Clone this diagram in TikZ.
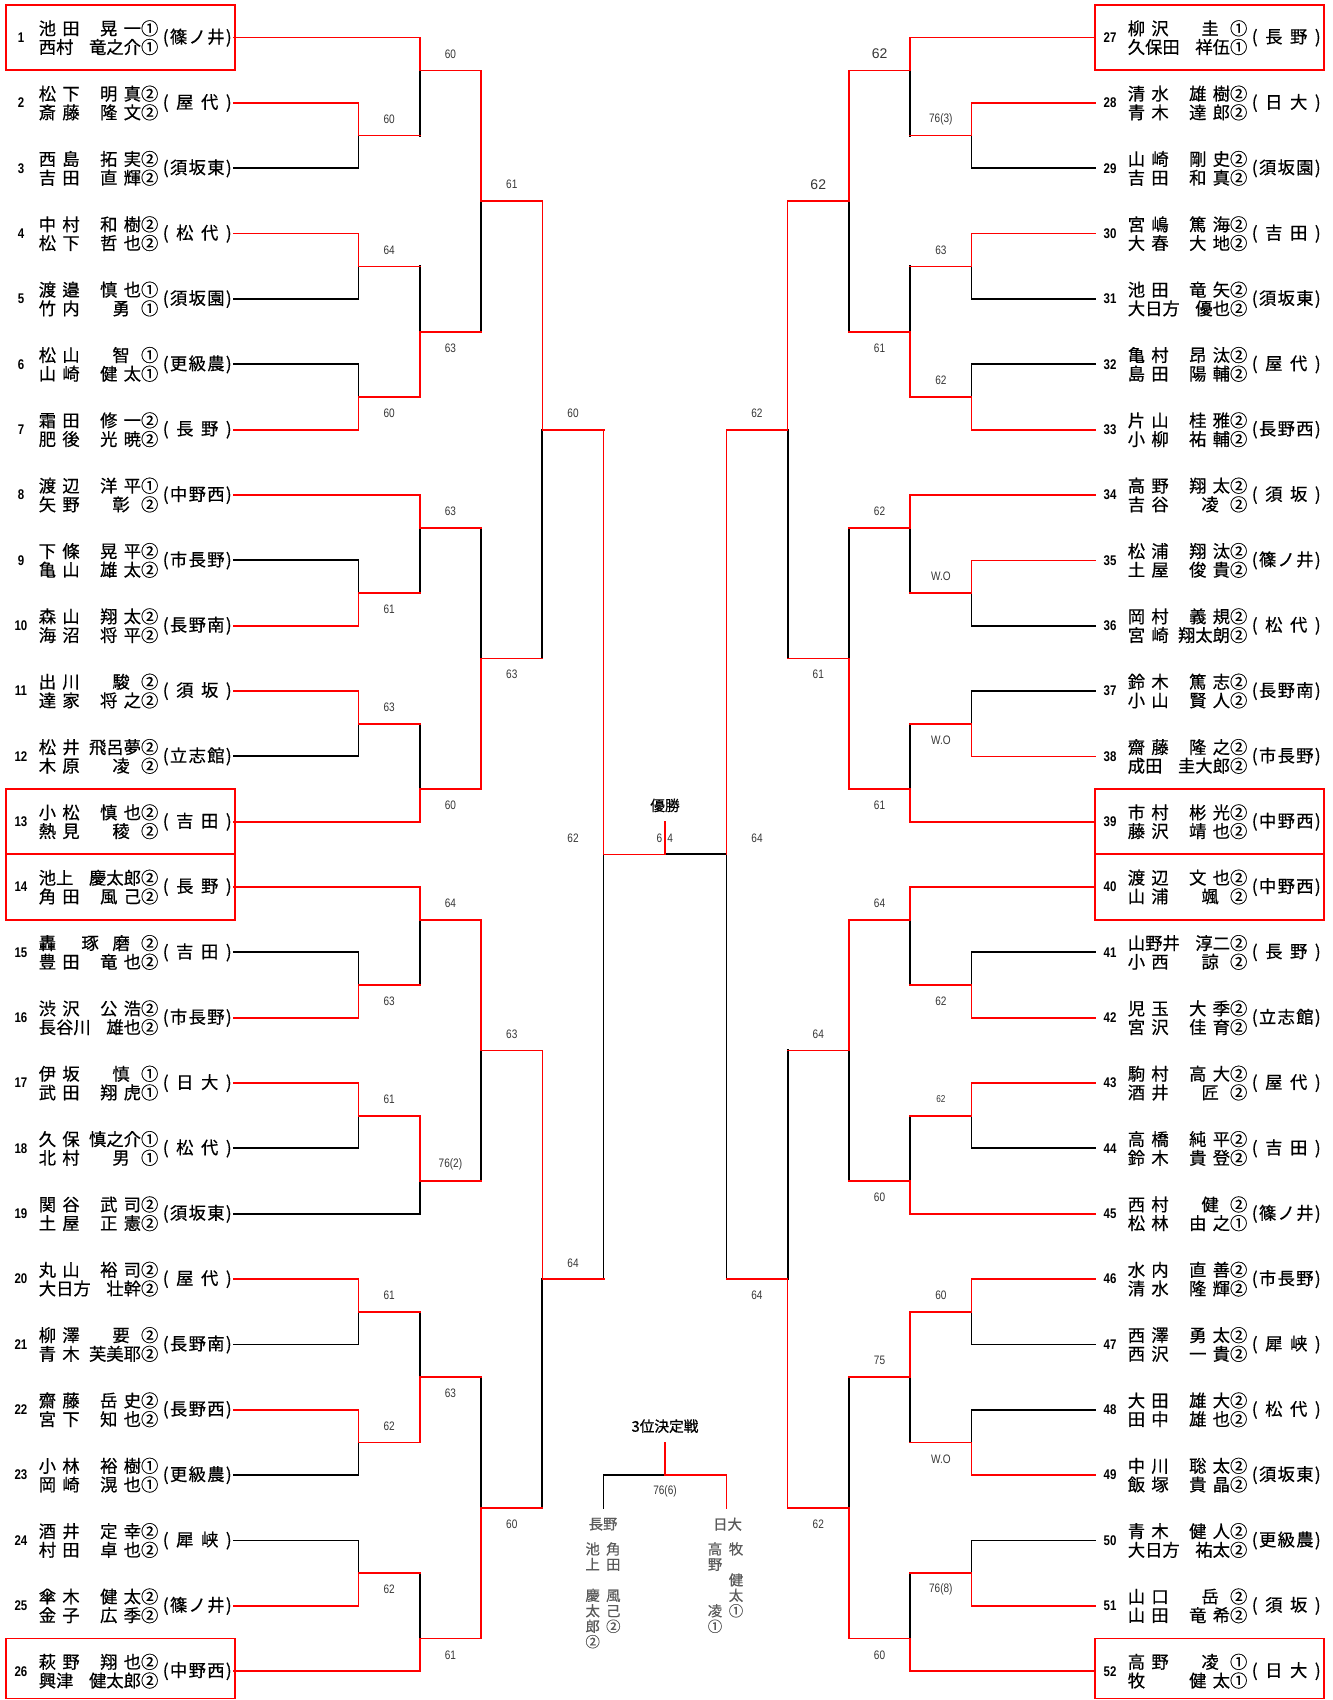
\documentclass[tikz,border=0pt]{standalone}
\usepackage{fontspec}
\setmainfont{Liberation Sans}
\newfontfamily\jpfont[FakeBold=0.5]{Noto Sans CJK JP}
\newfontfamily\jpheadfont[FakeBold=1.0]{Noto Sans CJK JP}
\newfontfamily\numfont[FakeStretch=0.82]{Liberation Sans}
\definecolor{winred}{RGB}{255,0,0}
\definecolor{scoregray}{RGB}{55,55,55}
\definecolor{thirdgray}{RGB}{90,90,90}
\pgfdeclarelayer{front}
\pgfsetlayers{main,front}
% half-row grid of the sheet (px from the top)
\newcommand\ry[1]{5+32.67*(#1)}
\newcommand\ns{\hspace{.36em}}
\newcommand\nz{\hspace{.65em}}
\newcommand\nmline[2]{\makebox[6.9em][l]{#1\hfill#2}}
\newcommand\school[1]{\makebox[51.75pt][s]{(\hfil#1\hfil)}}
\tikzset{
  lose/.style={draw=black, line width=1.45pt, line cap=rect},
  win/.style={draw=winred, line width=1.2pt, line cap=rect},
  seedbox/.style={draw=winred, line width=1.4pt},
  entrynum/.style={font=\numfont\bfseries\fontsize{10.5}{12}\selectfont, inner sep=0pt},
  pname/.style={font=\jpfont\fontsize{13}{14}\selectfont, align=left,
                inner sep=0pt, anchor=west},
  pschool/.style={font=\jpfont\fontsize{13}{14}\selectfont, inner sep=0pt,
                  anchor=west},
  lbl/.style={font=\numfont\fontsize{9.2}{11}\selectfont, text=scoregray,
              inner sep=0pt},
  lbl big/.style={lbl, font=\fontsize{10.5}{12}\selectfont},
  lbl small/.style={lbl, font=\numfont\fontsize{7.5}{9}\selectfont},
  headline/.style={font=\jpfont\fontsize{11}{13}\selectfont, inner sep=0pt},
  headline bold/.style={headline, font=\jpheadfont\fontsize{11}{13}\selectfont},
  vname/.style={font=\jpfont\fontsize{10.8}{11.6}\selectfont, text=thirdgray,
                align=center, inner sep=0pt, anchor=north},
}

\begin{document}
\begin{tikzpicture}[x=0.75pt, y=-0.75pt]
\fill[white] (0,0) rectangle (1333,1700);
\useasboundingbox (0,0) rectangle (1333,1700);
% seeded pairs in red frames
\foreach \k/\dx in {1/0,13/0,14/0,26/0,1/1089,13/1089,14/1089,26/1089}{
  \pgfmathsetmacro\yt{\ry{2*\k-2}}
  \pgfmathsetmacro\yb{min(\ry{2*\k},1698.5)}
  \draw[seedbox] (6+\dx,\yt) rectangle (235+\dx,\yb);
}
% entries: number, the two names, school, and the first line
\foreach \n/\fa/\ga/\fb/\gb/\sch/\bye/\win in {%
  1/{池\ns 田}/{晃\ns 一①}/西村/竜之介①/{篠\hfil ノ\hfil 井}/1/1,
  2/{松\ns 下}/{明\ns 真②}/{斎\ns 藤}/{隆\ns 文②}/{屋\hfil 代}/0/1,
  3/{西\ns 島}/{拓\ns 実②}/{吉\ns 田}/{直\ns 輝②}/{須\hfil 坂\hfil 東}/0/0,
  4/{中\ns 村}/{和\ns 樹②}/{松\ns 下}/{哲\ns 也②}/{松\hfil 代}/0/1,
  5/{渡\ns 邉}/{慎\ns 也①}/{竹\ns 内}/{勇\nz ①}/{須\hfil 坂\hfil 園}/0/0,
  6/{松\ns 山}/{智\nz ①}/{山\ns 崎}/{健\ns 太①}/{更\hfil 級\hfil 農}/0/0,
  7/{霜\ns 田}/{修\ns 一②}/{肥\ns 後}/{光\ns 暁②}/{長\hfil 野}/0/1,
  8/{渡\ns 辺}/{洋\ns 平①}/{矢\ns 野}/{彰\nz ②}/{中\hfil 野\hfil 西}/1/1,
  9/{下\ns 條}/{晃\ns 平②}/{亀\ns 山}/{雄\ns 太②}/{市\hfil 長\hfil 野}/0/0,
  10/{森\ns 山}/{翔\ns 太②}/{海\ns 沼}/{将\ns 平②}/{長\hfil 野\hfil 南}/0/1,
  11/{出\ns 川}/{駿\nz ②}/{達\ns 家}/{将\ns 之②}/{須\hfil 坂}/0/1,
  12/{松\ns 井}/飛呂夢②/{木\ns 原}/{凌\nz ②}/{立\hfil 志\hfil 館}/0/0,
  13/{小\ns 松}/{慎\ns 也②}/{熱\ns 見}/{稜\nz ②}/{吉\hfil 田}/1/1,
  14/池上/慶太郎②/{角\ns 田}/{風\ns 己②}/{長\hfil 野}/1/1,
  15/轟/{琢\hspace{.79em}磨\nz ②}/{豊\ns 田}/{竜\ns 也②}/{吉\hfil 田}/0/0,
  16/{渋\ns 沢}/{公\ns 浩②}/長谷川/雄也②/{市\hfil 長\hfil 野}/0/1,
  17/{伊\ns 坂}/{慎\nz ①}/{武\ns 田}/{翔\ns 虎①}/{日\hfil 大}/0/1,
  18/{久\ns 保}/慎之介①/{北\ns 村}/{男\nz ①}/{松\hfil 代}/0/0,
  19/{関\ns 谷}/{武\ns 司②}/{土\ns 屋}/{正\ns 憲②}/{須\hfil 坂\hfil 東}/1/0,
  20/{丸\ns 山}/{裕\ns 司②}/大日方/壮幹②/{屋\hfil 代}/0/1,
  21/{柳\ns 澤}/{要\nz ②}/{青\ns 木}/芙美耶②/{長\hfil 野\hfil 南}/0/0,
  22/{齋\ns 藤}/{岳\ns 史②}/{宮\ns 下}/{知\ns 也②}/{長\hfil 野\hfil 西}/0/1,
  23/{小\ns 林}/{裕\ns 樹①}/{岡\ns 崎}/{滉\ns 也①}/{更\hfil 級\hfil 農}/0/0,
  24/{酒\ns 井}/{定\ns 幸②}/{村\ns 田}/{卓\ns 也②}/{犀\hfil 峡}/0/0,
  25/{傘\ns 木}/{健\ns 太②}/{金\ns 子}/{広\ns 季②}/{篠\hfil ノ\hfil 井}/0/1,
  26/{萩\ns 野}/{翔\ns 也②}/興津/健太郎②/{中\hfil 野\hfil 西}/1/1,
  27/{柳\ns 沢}/{圭\nz ①}/久保田/祥伍①/{長\hfil 野}/1/1,
  28/{清\ns 水}/{雄\ns 樹②}/{青\ns 木}/{達\ns 郎②}/{日\hfil 大}/0/1,
  29/{山\ns 崎}/{剛\ns 史②}/{吉\ns 田}/{和\ns 真②}/{須\hfil 坂\hfil 園}/0/0,
  30/{宮\ns 嶋}/{篤\ns 海②}/{大\ns 春}/{大\ns 地②}/{吉\hfil 田}/0/1,
  31/{池\ns 田}/{竜\ns 矢②}/大日方/優也②/{須\hfil 坂\hfil 東}/0/0,
  32/{亀\ns 村}/{昂\ns 汰②}/{島\ns 田}/{陽\ns 輔②}/{屋\hfil 代}/0/0,
  33/{片\ns 山}/{桂\ns 雅②}/{小\ns 柳}/{祐\ns 輔②}/{長\hfil 野\hfil 西}/0/1,
  34/{高\ns 野}/{翔\ns 太②}/{吉\ns 谷}/{凌\nz ②}/{須\hfil 坂}/1/1,
  35/{松\ns 浦}/{翔\ns 汰②}/{土\ns 屋}/{俊\ns 貴②}/{篠\hfil ノ\hfil 井}/0/1,
  36/{岡\ns 村}/{義\ns 規②}/{宮\ns 崎}/翔太朗②/{松\hfil 代}/0/0,
  37/{鈴\ns 木}/{篤\ns 志②}/{小\ns 山}/{賢\ns 人②}/{長\hfil 野\hfil 南}/0/0,
  38/{齋\ns 藤}/{隆\ns 之②}/成田/圭大郎②/{市\hfil 長\hfil 野}/0/1,
  39/{市\ns 村}/{彬\ns 光②}/{藤\ns 沢}/{靖\ns 也②}/{中\hfil 野\hfil 西}/1/1,
  40/{渡\ns 辺}/{文\ns 也②}/{山\ns 浦}/{颯\nz ②}/{中\hfil 野\hfil 西}/1/1,
  41/山野井/淳二②/{小\ns 西}/{諒\nz ②}/{長\hfil 野}/0/0,
  42/{児\ns 玉}/{大\ns 季②}/{宮\ns 沢}/{佳\ns 育②}/{立\hfil 志\hfil 館}/0/1,
  43/{駒\ns 村}/{高\ns 大②}/{酒\ns 井}/{匠\nz ②}/{屋\hfil 代}/0/1,
  44/{高\ns 橋}/{純\ns 平②}/{鈴\ns 木}/{貴\ns 登②}/{吉\hfil 田}/0/0,
  45/{西\ns 村}/{健\nz ②}/{松\ns 林}/{由\ns 之①}/{篠\hfil ノ\hfil 井}/1/1,
  46/{水\ns 内}/{直\ns 善②}/{清\ns 水}/{隆\ns 輝②}/{市\hfil 長\hfil 野}/0/1,
  47/{西\ns 澤}/{勇\ns 太②}/{西\ns 沢}/{一\ns 貴②}/{犀\hfil 峡}/0/0,
  48/{大\ns 田}/{雄\ns 大②}/{田\ns 中}/{雄\ns 也②}/{松\hfil 代}/0/0,
  49/{中\ns 川}/{聡\ns 太②}/{飯\ns 塚}/{貴\ns 晶②}/{須\hfil 坂\hfil 東}/0/1,
  50/{青\ns 木}/{健\ns 人②}/大日方/祐太②/{更\hfil 級\hfil 農}/0/0,
  51/{山\ns 口}/{岳\nz ②}/{山\ns 田}/{竜\ns 希②}/{須\hfil 坂}/0/1,
  52/{高\ns 野}/{凌\nz ①}/牧/{健\ns 太①}/{日\hfil 大}/1/1%
}{
  \ifnum\n>26
    \def\dx{1089}\def\sgn{1}\pgfmathtruncatemacro\rr{2*(\n-26)-1}
    \coordinate (a\n) at (1095,{\ry{\rr}});
  \else
    \def\dx{0}\def\sgn{-1}\pgfmathtruncatemacro\rr{2*\n-1}
    \coordinate (a\n) at (234,{\ry{\rr}});
  \fi
  \node[entrynum] (num\n) at (21+\dx,{\ry{\rr}}) {\n};
  \node[pname] (nm\n) at (38.5+\dx,{\ry{\rr}}) {\nmline{\fa}{\ga}\\\nmline{\fb}{\gb}};
  \node[pschool] (sc\n) at (162.5+\dx,{\ry{\rr}}) {\school{\sch}};
  \pgfmathsetmacro\xc{665+\sgn*(5-\bye)*61.3}
  \ifnum\win=1
    \begin{pgfonlayer}{front}
      \draw[win] (a\n) -- (\xc,{\ry{\rr}});
    \end{pgfonlayer}
  \else
    \draw[lose] (a\n) -- (\xc,{\ry{\rr}});
  \fi
}
% left half: column / top row / out row / bottom row / winner / score
\foreach \col/\rt/\ro/\rb/\wn/\sc/\rl/\ls in {%
  1/3/4/5/t/60/3.5/lbl, 1/7/8/9/t/64/7.5/lbl, 1/11/12/13/b/60/12.5/lbl,
  1/17/18/19/b/61/18.5/lbl, 1/21/22/23/t/63/21.5/lbl, 1/29/30/31/b/63/30.5/lbl,
  1/33/34/35/t/61/33.5/lbl, 1/39/40/41/t/61/39.5/lbl, 1/43/44/45/t/62/43.5/lbl,
  1/47/48/49/b/62/48.5/lbl,
  2/1/2/4/t/60/1.5/lbl, 2/8/10/12/b/63/10.5/lbl, 2/15/16/18/t/63/15.5/lbl,
  2/22/24/25/b/60/24.5/lbl, 2/27/28/30/t/64/27.5/lbl, 2/34/36/37/t/76(2)/35.5/lbl,
  2/40/42/44/b/63/42.5/lbl, 2/48/50/51/b/61/50.5/lbl,
  3/2/6/10/t/61/5.5/lbl, 3/16/20/24/b/63/20.5/lbl, 3/28/32/36/t/63/31.5/lbl,
  3/42/46/50/b/60/46.5/lbl,
  4/6/13/20/t/60/12.5/lbl, 4/32/39/46/t/64/38.5/lbl%
}{
  \pgfmathsetmacro\xa{665-(6-\col)*61.3}
  \pgfmathsetmacro\xb{665-(5-\col)*61.3}
  \if t\wn
    \draw[lose] (\xa,{\ry{\ro}}) -- (\xa,{\ry{\rb}});
    \begin{pgfonlayer}{front}
      \draw[win] (\xa,{\ry{\rt}}) -- (\xa,{\ry{\ro}}) -- (\xb,{\ry{\ro}});
    \end{pgfonlayer}
  \else
    \draw[lose] (\xa,{\ry{\rt}}) -- (\xa,{\ry{\ro}});
    \begin{pgfonlayer}{front}
      \draw[win] (\xa,{\ry{\rb}}) -- (\xa,{\ry{\ro}}) -- (\xb,{\ry{\ro}});
    \end{pgfonlayer}
  \fi
  \node[\ls] (sl\col-\ro) at ({(\xa+\xb)/2},{\ry{\rl}}) {\sc};
}
% right half, mirrored
\foreach \col/\rt/\ro/\rb/\wn/\sc/\rl/\ls in {%
  1/3/4/5/t/76(3)/3.5/lbl, 1/7/8/9/t/63/7.5/lbl, 1/11/12/13/b/62/11.5/lbl,
  1/17/18/19/t/W.O/17.5/lbl, 1/21/22/23/b/W.O/22.5/lbl, 1/29/30/31/b/62/30.5/lbl,
  1/33/34/35/t/62/33.5/lbl small, 1/39/40/41/t/60/39.5/lbl,
  1/43/44/45/b/W.O/44.5/lbl, 1/47/48/49/b/76(8)/48.5/lbl,
  2/1/2/4/t/62/1.5/lbl big, 2/8/10/12/b/61/10.5/lbl, 2/15/16/18/t/62/15.5/lbl,
  2/22/24/25/b/61/24.5/lbl, 2/27/28/30/t/64/27.5/lbl, 2/34/36/37/b/60/36.5/lbl,
  2/40/42/44/t/75/41.5/lbl, 2/48/50/51/b/60/50.5/lbl,
  3/2/6/10/t/62/5.5/lbl big, 3/16/20/24/b/61/20.5/lbl, 3/28/32/36/t/64/31.5/lbl,
  3/42/46/50/b/62/46.5/lbl,
  4/6/13/20/t/62/12.5/lbl, 4/32/39/46/b/64/39.5/lbl%
}{
  \pgfmathsetmacro\xa{665+(6-\col)*61.3}
  \pgfmathsetmacro\xb{665+(5-\col)*61.3}
  \if t\wn
    \draw[lose] (\xa,{\ry{\ro}}) -- (\xa,{\ry{\rb}});
    \begin{pgfonlayer}{front}
      \draw[win] (\xa,{\ry{\rt}}) -- (\xa,{\ry{\ro}}) -- (\xb,{\ry{\ro}});
    \end{pgfonlayer}
  \else
    \draw[lose] (\xa,{\ry{\rt}}) -- (\xa,{\ry{\ro}});
    \begin{pgfonlayer}{front}
      \draw[win] (\xa,{\ry{\rb}}) -- (\xa,{\ry{\ro}}) -- (\xb,{\ry{\ro}});
    \end{pgfonlayer}
  \fi
  \node[\ls] (sr\col-\ro) at ({(\xa+\xb)/2},{\ry{\rl}}) {\sc};
}
% final
\coordinate (semiL) at (603.5,{\ry{26}});
\coordinate (semiR) at (726.5,{\ry{26}});
\coordinate (champ) at (665,{\ry{26}});
\draw[lose] (semiL) -- (603.5,{\ry{39}});
\draw[lose] (semiR) -- (726.5,{\ry{39}});
\draw[lose] (champ) -- (semiR);
\begin{pgfonlayer}{front}
  \draw[win] (603.5,{\ry{13}}) -- (semiL) -- (champ);
  \draw[win] (726.5,{\ry{13}}) -- (semiR);
  \draw[win] (champ) -- (665,{\ry{25}});
\end{pgfonlayer}
\node[headline] (yusho) at (665,{\ry{24.5}}) {優勝};
\node[lbl, anchor=east] (fin6) at (662.5,{\ry{25.5}}) {6};
\node[lbl, anchor=west] (fin4) at (667,{\ry{25.5}}) {4};
\node[lbl] (semiLs) at (573,{\ry{25.5}}) {62};
\node[lbl] (semiRs) at (757,{\ry{25.5}}) {64};
% third place play-off
\node[headline bold] (third) at (665,{\ry{43.5}}) {3位決定戦};
\coordinate (thirdC) at (665,{\ry{45}});
\coordinate (thirdL) at (603.5,{\ry{45}});
\coordinate (thirdR) at (726.5,{\ry{45}});
\draw[lose] (603.5,{\ry{46}}) -- (thirdL) -- (thirdC);
\begin{pgfonlayer}{front}
  \draw[win] (665,{\ry{44}}) -- (thirdC) -- (thirdR) -- (726.5,{\ry{46}});
\end{pgfonlayer}
\node[lbl] (thirds) at (665,{\ry{45.5}}) {76(6)};
\node[vname, anchor=center] (tnL) at (603,{\ry{46.5}}) {長野};
\node[vname, anchor=center] (tnR) at (727.5,{\ry{46.5}}) {日大};
\node[vname] (tpa) at (592.7,1542) {池\\上\\[11.6pt]慶\\太\\郎\\②};
\node[vname] (tpb) at (613.3,1542) {角\\田\\[11.6pt]風\\己\\②};
\node[vname] (tpc) at (715,1542) {高\\野\\[23.2pt]凌\\①};
\node[vname] (tpd) at (736,1542) {牧\\[11.6pt]健\\太\\①};
\end{tikzpicture}
\end{document}
